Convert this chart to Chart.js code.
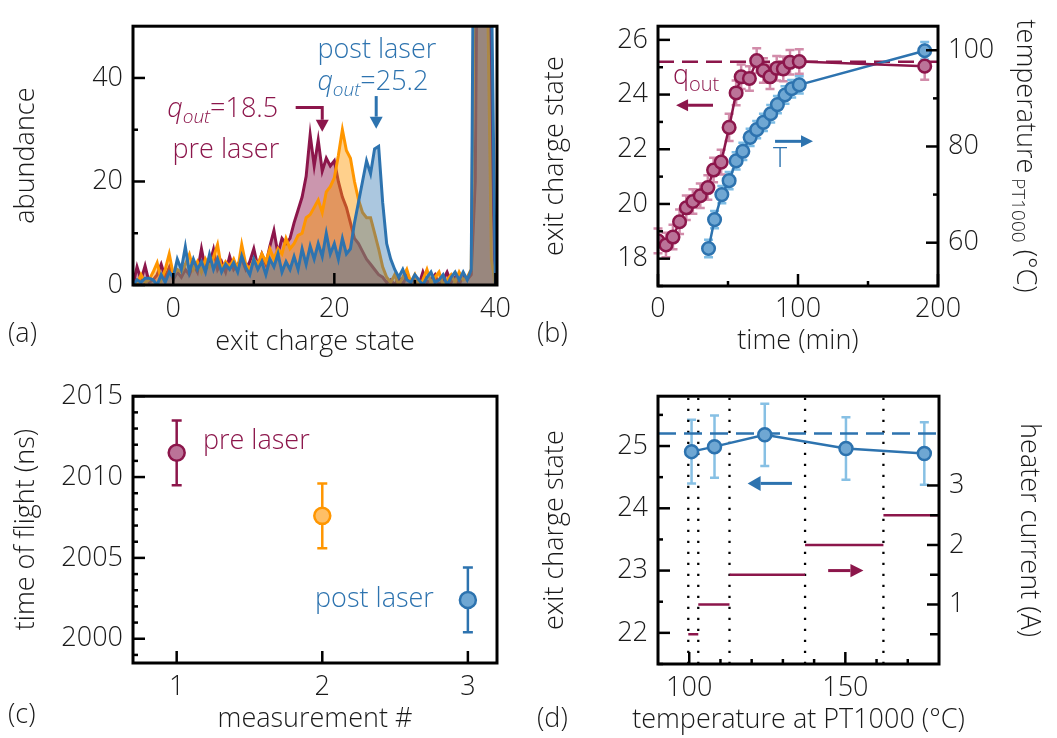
<!DOCTYPE html>
<html>
<head>
<meta charset="utf-8">
<script src="https://cdn.jsdelivr.net/npm/chart.js@4.4.0/dist/chart.umd.min.js"></script>
<style>
    body { margin: 0; background: #fff; width: 1057px; height: 738px; overflow: hidden; position: relative; }
    .panel { position: absolute; }
</style>
</head>
<body>
<div class="panel" style="left:0;top:0;width:520px;height:370px"><canvas id="chartA"></canvas></div>
<div class="panel" style="left:520px;top:0;width:537px;height:370px"><canvas id="chartB"></canvas></div>
<div class="panel" style="left:0;top:370px;width:520px;height:368px"><canvas id="chartC"></canvas></div>
<div class="panel" style="left:520px;top:370px;width:537px;height:368px"><canvas id="chartD"></canvas></div>
<script>
// ---- (a) exit charge state spectra ----
const chargeState = [
    -5, -4.5, -4, -3.5, -3, -2.5, -2, -1.5, -1, -0.5,
    0, 0.5, 1, 1.5, 2, 2.5, 3, 3.5, 4, 4.5,
    5, 5.5, 6, 6.5, 7, 7.5, 8, 8.5, 9, 9.5,
    10, 10.5, 11, 11.5, 12, 12.5, 13, 13.5, 14, 14.5,
    15, 15.5, 16, 16.5, 17, 17.5, 18, 18.5, 19, 19.5,
    20, 20.5, 21, 21.5, 22, 22.5, 23, 23.5, 24, 24.5,
    25, 25.5, 26, 26.5, 27, 27.5, 28, 28.5, 29, 29.5,
    30, 30.5, 31, 31.5, 32, 32.5, 33, 33.5, 34, 34.5,
    35, 35.5, 36, 36.5, 37, 37.5, 38, 38.5, 39, 39.5,
    40
];
const abundancePre = [
    0, 3.5, 1, 3.7, 0.5, 1, 2, 4, 1.5, 3.4,
    1, 2.5, 1.5, 3, 2, 4, 2.5, 7, 3, 4,
    6.9, 3, 4.5, 2.5, 5.5, 3, 4, 5, 3, 4.5,
    7, 3.5, 6, 4, 7.5, 10.5, 6, 9, 8, 9,
    12, 14.5, 17, 21, 29, 23, 28, 22, 24.5, 23,
    24, 20, 17, 15, 12, 9, 8, 6.5, 5, 4,
    3, 2, 1.5, 0.5, 1, 0, 1.5, 0, 2, 0.5,
    1, 0, 2.5, 0.5, 1, 2, 0, 1, 2.5, 0.5,
    1.5, 0, 2, 1, 2, 20, 120, 150, 90, 29,
    0
];
const abundanceMid = [
    0, 0, 2, 0.5, 1, 2.5, 4.3, 1, 3, 6,
    2, 3, 2.5, 4, 5.9, 3, 4.5, 2.5, 5, 3.5,
    5.4, 7.8, 3, 4.5, 3.5, 5, 3, 7.8, 4, 3,
    5, 4, 6, 4.5, 7, 5, 7, 6, 9, 7,
    8, 9.6, 10, 13, 13.6, 15, 16.4, 14, 18, 19,
    20.7, 25, 30, 26, 24.5, 20, 16.5, 14, 13, 13,
    10, 7, 3.5, 1.5, 0.5, 2, 0, 1.5, 3, 0.5,
    2, 0, 1, 3, 0.5, 1.5, 2.5, 0, 1, 2,
    0.5, 2.5, 1, 1.5, 3, 80, 150, 120, 60, 5,
    0
];
const abundancePost = [
    0, 1, 0.5, 1.3, 1.3, 1, 0, 2, 0.5, 2.5,
    1.5, 5, 3, 7.4, 2.5, 5, 3, 4.5, 2.5, 5.9,
    3, 5, 2.5, 4, 3, 4.3, 2.5, 5.6, 3.4, 2,
    5, 3, 4.5, 2, 5, 3.5, 6, 2.5, 4.5, 3,
    5.5, 3, 7, 4, 7.5, 5, 8, 5.5, 10, 6,
    8, 5, 9, 6, 7, 12, 16, 20, 24, 21.5,
    26.3, 26.8, 16, 8, 5, 3, 1.5, 3, 1, 0.5,
    2, 1, 0, 1.5, 2.5, 0.5, 1, 2, 0, 1.5,
    2.5, 1, 2.5, 1, 3, 120, 160, 150, 120, 60,
    0
];
const qPreLaser = 18.5;
const qPostLaser = 25.2;
const aXTicks = [0, 20, 40], aXMinor = [10, 30];
const aYTicks = [0, 20, 40], aYMinor = [10, 30];

// ---- (b) exit charge state and temperature vs time ----
const timeQ = [0, 5.7, 10.7, 15.4, 20.2, 24.9, 30.2, 35.6, 39.7, 45.1, 50.8, 55.8, 59.4, 65.3, 70.5, 75.3, 80, 84.8, 89.5, 94.3, 100.9, 190.5];
const qOut = [18.65, 18.5, 18.79, 19.35, 19.86, 20.09, 20.3, 20.6, 21.24, 21.53, 22.8, 24.06, 24.65, 24.59, 25.24, 24.88, 24.65, 24.96, 24.94, 25.18, 25.21, 25.04];
const qOutErr = [0.45, 0.45, 0.45, 0.45, 0.45, 0.45, 0.45, 0.45, 0.45, 0.45, 0.5, 0.45, 0.45, 0.45, 0.45, 0.45, 0.45, 0.45, 0.45, 0.45, 0.45, 0.5];
const timeT = [36.1, 40.4, 45.6, 50.8, 55.8, 60.6, 65.8, 70.5, 75.3, 80.5, 85.3, 90.7, 95.5, 100.9, 190.5];
const tempT = [58.8, 64.8, 70, 72.9, 77, 79, 81.9, 83.5, 85, 86.8, 88.7, 90.7, 92, 92.8, 99.9];
const tempErr = [1.8, 1.8, 1.8, 1.8, 1.8, 1.8, 1.8, 1.8, 1.8, 1.8, 1.8, 1.8, 1.8, 1.8, 1.8];
const bXTicks = [0, 100, 200], bXMinor = [50, 150];
const bYTicks = [18, 20, 22, 24, 26], bYMinor = [17, 19, 21, 23, 25];
const bY2Ticks = [60, 80, 100], bY2Minor = [70, 90];

// ---- (c) time of flight per measurement ----
const measurement = [1, 2, 3];
const timeOfFlight = [2011.5, 2007.6, 2002.4];
const timeOfFlightErr = [2, 2, 2];
const cXTicks = [1, 2, 3];
const cYTicks = [2000, 2005, 2010, 2015];
const cYMinor = [1999, 2001, 2002, 2003, 2004, 2006, 2007, 2008, 2009, 2011, 2012, 2013, 2014];

// ---- (d) exit charge state vs temperature, heater current ----
const tempD = [100.75, 108.1, 124.2, 150.2, 175.3];
const qD = [24.91, 24.99, 25.18, 24.96, 24.88];
const qDErr = [0.51, 0.5, 0.5, 0.5, 0.5];
const heaterStart = [99.7, 102.9, 112.9, 137.1, 162.2];
const heaterEnd = [102.9, 112.9, 137.1, 162.2, 180];
const heaterCurrent = [0.5, 1, 1.5, 2, 2.5];
const dXTicks = [100, 150], dXMinor = [110, 120, 130, 140, 160, 170];
const dYTicks = [22, 23, 24, 25], dYMinor = [21.5, 22.5, 23.5, 24.5, 25.5];
const dY2Ticks = [1, 2, 3], dY2Minor = [0.5, 1.5, 2.5];

// colours
const crimson = 'rgb(140, 22, 75)';
const orange = 'rgb(255, 150, 0)';
const blue = 'rgb(45, 115, 175)';
const FONT = '"Open Sans", "DejaVu Sans", sans-serif';
const FS = 27;
const SUB = 19;

Chart.defaults.font.family = FONT;
Chart.defaults.font.size = FS;
Chart.defaults.font.weight = '300';
Chart.defaults.color = '#1a1a1a';

function fontStr(size, italic) {
    return (italic ? 'italic ' : '') + '300 ' + size + 'px ' + FONT;
}

// linear axis with fixed box size and hand-picked tick values
function axis(o) {
    return {
        type: 'linear',
        position: o.position,
        min: o.min,
        max: o.max,
        grid: { display: false, drawTicks: false },
        border: { display: false },
        ticks: {
            padding: o.pad,
            autoSkip: false,
            maxRotation: 0,
            callback: v => String(v)
        },
        afterBuildTicks: s => { s.ticks = o.ticks.map(v => ({ value: v })); },
        afterFit: s => {
            if (o.width !== undefined) s.width = o.width;
            else s.height = o.height;
        },
        title: o.title
            ? { display: true, text: o.title, padding: o.titlePad, font: { size: FS } }
            : { display: false }
    };
}

function baseOptions(padding, scales) {
    return {
        responsive: true,
        maintainAspectRatio: false,
        animation: false,
        devicePixelRatio: 1,
        events: [],
        layout: { padding: padding },
        plugins: { legend: { display: false }, tooltip: { enabled: false } },
        scales: scales
    };
}

function textWidth(ctx, segs) {
    let total = 0;
    ctx.save();
    segs.forEach(s => { ctx.font = fontStr(s.size || FS, s.italic); total += ctx.measureText(s.t).width; });
    ctx.restore();
    return total;
}

function drawRich(ctx, x, y, segs, color) {
    ctx.save();
    ctx.fillStyle = color;
    ctx.textBaseline = 'alphabetic';
    ctx.textAlign = 'left';
    let cx = x;
    segs.forEach(s => {
        ctx.font = fontStr(s.size || FS, s.italic);
        ctx.fillText(s.t, cx, y + (s.dy || 0));
        cx += ctx.measureText(s.t).width;
    });
    ctx.restore();
}

function drawArrow(ctx, pts, color, width, headLen, headHalf) {
    const n = pts.length;
    const [tx, ty] = pts[n - 1];
    const [px, py] = pts[n - 2];
    const len = Math.hypot(tx - px, ty - py);
    const ux = (tx - px) / len, uy = (ty - py) / len;
    const bx = tx - ux * headLen, by = ty - uy * headLen;
    ctx.save();
    ctx.strokeStyle = color;
    ctx.fillStyle = color;
    ctx.lineWidth = width;
    ctx.beginPath();
    ctx.moveTo(pts[0][0], pts[0][1]);
    for (let i = 1; i < n - 1; i++) ctx.lineTo(pts[i][0], pts[i][1]);
    ctx.lineTo(bx, by);
    ctx.stroke();
    ctx.beginPath();
    ctx.moveTo(tx, ty);
    ctx.lineTo(bx - uy * headHalf, by + ux * headHalf);
    ctx.lineTo(bx + uy * headHalf, by - ux * headHalf);
    ctx.closePath();
    ctx.fill();
    ctx.restore();
}

// error bars, inner ticks, frame, arrows and annotations of one panel
function decor(spec) {
    return {
        id: 'decor',
        beforeDatasetsDraw(chart) {
            const ctx = chart.ctx;
            (spec.errorBars || []).forEach(eb => {
                const xs = chart.scales.x, ys = chart.scales[eb.yAxis || 'y'];
                ctx.save();
                ctx.lineWidth = eb.width;
                eb.x.forEach((xv, i) => {
                    const px = xs.getPixelForValue(xv);
                    const top = ys.getPixelForValue(eb.y[i] + eb.err[i]);
                    const bot = ys.getPixelForValue(eb.y[i] - eb.err[i]);
                    ctx.strokeStyle = Array.isArray(eb.color) ? eb.color[i] : eb.color;
                    ctx.beginPath();
                    ctx.moveTo(px, top); ctx.lineTo(px, bot);
                    ctx.moveTo(px - eb.cap, top); ctx.lineTo(px + eb.cap, top);
                    ctx.moveTo(px - eb.cap, bot); ctx.lineTo(px + eb.cap, bot);
                    ctx.stroke();
                });
                ctx.restore();
            });
        },
        afterDatasetsDraw(chart) {
            const ctx = chart.ctx, a = chart.chartArea;
            // ticks pointing into the plot
            ctx.save();
            ctx.strokeStyle = '#000';
            ctx.lineWidth = 2.5;
            (spec.ticks || []).forEach(t => {
                const sc = chart.scales[t.axis];
                const mark = (v, len) => {
                    const p = sc.getPixelForValue(v);
                    ctx.beginPath();
                    if (t.side === 'left') { ctx.moveTo(a.left, p); ctx.lineTo(a.left + len, p); }
                    else if (t.side === 'right') { ctx.moveTo(a.right, p); ctx.lineTo(a.right - len, p); }
                    else { ctx.moveTo(p, a.bottom); ctx.lineTo(p, a.bottom - len); }
                    ctx.stroke();
                };
                t.major.forEach(v => mark(v, 12));
                (t.minor || []).forEach(v => mark(v, t.minorLen || 5));
            });
            ctx.lineWidth = 3;
            ctx.strokeRect(a.left, a.top, a.right - a.left, a.bottom - a.top);
            ctx.restore();

            const toPx = (p, yAxis) => [chart.scales.x.getPixelForValue(p[0]), chart.scales[yAxis || 'y'].getPixelForValue(p[1])];
            (spec.arrows || []).forEach(ar => {
                drawArrow(ctx, ar.pts.map(p => toPx(p, ar.yAxis)), ar.color, 3, ar.headLen || 12, ar.headHalf || 6.5);
            });
            (spec.labels || []).forEach(lb => {
                const [x, y] = toPx(lb.at, lb.yAxis);
                drawRich(ctx, x, y, lb.segs, lb.color);
            });
        },
        afterDraw(chart) {
            const ctx = chart.ctx, a = chart.chartArea;
            drawRich(ctx, spec.letter.x, spec.letter.y, [{ t: spec.letter.t }], '#1a1a1a');
            if (spec.rightTitle) {
                // rotated title with a subscript, reading top to bottom
                const rt = spec.rightTitle;
                const total = textWidth(ctx, rt.segs);
                ctx.save();
                ctx.translate(rt.x, (a.top + a.bottom) / 2);
                ctx.rotate(Math.PI / 2);
                drawRich(ctx, -total / 2, 0, rt.segs, '#1a1a1a');
                ctx.restore();
            }
            if (spec.bottomTitle) {
                // wider than the axis, so drawn here instead of by the scale
                const bt = spec.bottomTitle;
                const total = textWidth(ctx, bt.segs);
                drawRich(ctx, (a.left + a.right) / 2 - total / 2, bt.y, bt.segs, '#1a1a1a');
            }
        }
    };
}

function histogram(values, color, fillColor, order) {
    return {
        data: chargeState.map((q, i) => ({ x: q, y: values[i] })),
        borderColor: color,
        backgroundColor: fillColor,
        fill: 'origin',
        borderWidth: 3,
        pointRadius: 0,
        tension: 0,
        order: order
    };
}

function pointsOf(xs, ys) {
    return xs.map((x, i) => ({ x: x, y: ys[i] }));
}

function initializeCharts() {
    // (a) spectra
    new Chart(document.getElementById('chartA'), {
        type: 'line',
        data: {
            datasets: [
                histogram(abundancePost, blue, 'rgba(45, 115, 175, 0.4)', 1),
                histogram(abundanceMid, orange, 'rgba(255, 150, 0, 0.45)', 2),
                histogram(abundancePre, crimson, 'rgba(140, 22, 75, 0.45)', 3)
            ]
        },
        options: baseOptions({ top: 15, right: 23, left: 0, bottom: 0 }, {
            x: axis({ position: 'bottom', min: -5, max: 40.2, ticks: aXTicks, pad: 8, height: 85,
                title: 'exit charge state', titlePad: { top: 0, bottom: 11 } }),
            y: axis({ position: 'left', min: 0, max: 50, ticks: aYTicks, pad: 10, width: 133,
                title: 'abundance', titlePad: { top: 9.9, bottom: 0 } })
        }),
        plugins: [decor({
            ticks: [
                { axis: 'x', side: 'bottom', major: aXTicks, minor: aXMinor },
                { axis: 'y', side: 'left', major: aYTicks, minor: aYMinor }
            ],
            arrows: [
                { pts: [[qPostLaser, 36.5], [qPostLaser, 30.2]], color: blue },
                { pts: [[15.2, 34.3], [qPreLaser, 34.3], [qPreLaser, 29.6]], color: crimson }
            ],
            labels: [
                { at: [17.9, 43.9], color: blue, segs: [{ t: 'post laser' }] },
                { at: [17.9, 37.6], color: blue, segs: [{ t: 'q', italic: true }, { t: 'out', italic: true, size: SUB, dy: 6 }, { t: '=' + qPostLaser }] },
                { at: [-0.75, 32.4], color: crimson, segs: [{ t: 'q', italic: true }, { t: 'out', italic: true, size: SUB, dy: 6 }, { t: '=' + qPreLaser }] },
                { at: [-0.1, 24.6], color: crimson, segs: [{ t: 'pre laser' }] }
            ],
            letter: { t: '(a)', x: 8, y: 342 }
        })]
    });

    // (b) time evolution
    new Chart(document.getElementById('chartB'), {
        type: 'line',
        data: {
            datasets: [
                {
                    data: pointsOf(timeQ, qOut), yAxisID: 'y', order: 1,
                    borderColor: crimson, borderWidth: 2.5, tension: 0,
                    pointRadius: 6.3, pointBorderWidth: 2.5,
                    pointBackgroundColor: '#bb7398', pointBorderColor: crimson
                },
                {
                    data: pointsOf(timeT, tempT), yAxisID: 'y2', order: 2,
                    borderColor: blue, borderWidth: 2.5, tension: 0,
                    pointRadius: 6.3, pointBorderWidth: 2.5,
                    pointBackgroundColor: '#6fa7d3', pointBorderColor: blue
                },
                {
                    data: [{ x: 0, y: qPostLaser }, { x: 200, y: qPostLaser }], yAxisID: 'y', order: 3,
                    borderColor: crimson, borderWidth: 2.5, borderDash: [16, 8], pointRadius: 0
                }
            ]
        },
        options: baseOptions({ top: 15, right: 0, left: 0, bottom: 0 }, {
            x: axis({ position: 'bottom', min: 0, max: 200, ticks: bXTicks, pad: 7, height: 84,
                title: 'time (min)', titlePad: { top: 0, bottom: 12.7 } }),
            y: axis({ position: 'left', min: 17, max: 26.5, ticks: bYTicks, pad: 10, width: 138,
                title: 'exit charge state', titlePad: { top: 19.6, bottom: 0 } }),
            y2: axis({ position: 'right', min: 51, max: 105, ticks: bY2Ticks, pad: 10, width: 119 })
        }),
        plugins: [decor({
            errorBars: [
                { x: timeQ, y: qOut, err: qOutErr, color: 'rgb(210, 140, 170)', width: 2.5, cap: 4.5 },
                { x: timeT, y: tempT, err: tempErr, yAxis: 'y2', color: 'rgb(125, 188, 228)', width: 2.5, cap: 4.5 }
            ],
            ticks: [
                { axis: 'x', side: 'bottom', major: bXTicks, minor: bXMinor },
                { axis: 'y', side: 'left', major: bYTicks, minor: bYMinor },
                { axis: 'y2', side: 'right', major: bY2Ticks, minor: bY2Minor }
            ],
            arrows: [
                { pts: [[39.3, 23.61], [12.9, 23.61]], color: crimson, headHalf: 6 },
                { pts: [[83.6, 22.29], [110.7, 22.29]], color: blue, headHalf: 6 }
            ],
            labels: [
                { at: [10.7, 24.38], color: crimson, segs: [{ t: 'q' }, { t: 'out', size: SUB + 1, dy: 7 }] },
                { at: [82.1, 21.34], color: blue, segs: [{ t: 'T' }] }
            ],
            rightTitle: { x: 497, segs: [{ t: 'temperature' }, { t: ' PT1000', size: SUB, dy: 5 }, { t: ' (°C)' }] },
            letter: { t: '(b)', x: 17, y: 342 }
        })]
    });

    // (c) time of flight
    new Chart(document.getElementById('chartC'), {
        type: 'line',
        data: {
            datasets: [{
                data: pointsOf(measurement, timeOfFlight), showLine: false,
                pointRadius: 8, pointBorderWidth: 2.5,
                pointBackgroundColor: ['#bb7398', '#ffbf66', '#6fa7d3'],
                pointBorderColor: [crimson, orange, blue]
            }]
        },
        options: baseOptions({ top: 23, right: 23, left: 0, bottom: 0 }, {
            x: axis({ position: 'bottom', min: 0.7, max: 3.2, ticks: cXTicks, pad: 8, height: 75,
                title: 'measurement #', titlePad: { top: 0, bottom: 2.4 } }),
            y: axis({ position: 'left', min: 1998.5, max: 2015, ticks: cYTicks, pad: 10, width: 133,
                title: 'time of flight (ns)', titlePad: { top: 9.9, bottom: 0 } })
        }),
        plugins: [decor({
            errorBars: [
                { x: measurement, y: timeOfFlight, err: timeOfFlightErr, color: [crimson, orange, blue], width: 2.5, cap: 5 }
            ],
            ticks: [
                { axis: 'x', side: 'bottom', major: cXTicks },
                { axis: 'y', side: 'left', major: cYTicks, minor: cYMinor }
            ],
            labels: [
                { at: [1.18, 2011.76], color: crimson, segs: [{ t: 'pre laser' }] },
                { at: [1.95, 2001.97], color: blue, segs: [{ t: 'post laser' }] }
            ],
            letter: { t: '(c)', x: 8, y: 353 }
        })]
    });

    // (d) temperature scan with heater current steps
    const heaterData = [];
    heaterStart.forEach((s, i) => {
        heaterData.push({ x: s, y: heaterCurrent[i] }, { x: heaterEnd[i], y: heaterCurrent[i] }, { x: heaterEnd[i], y: null });
    });
    const dottedSets = heaterStart.map(e => ({
        data: [{ x: e, y: 21.5 }, { x: e, y: 25.8 }], yAxisID: 'y', order: 5,
        borderColor: '#000', borderWidth: 2.3, borderDash: [2.3, 8.7], pointRadius: 0
    }));
    new Chart(document.getElementById('chartD'), {
        type: 'line',
        data: {
            datasets: [
                {
                    data: pointsOf(tempD, qD), yAxisID: 'y', order: 1,
                    borderColor: blue, borderWidth: 2.5, tension: 0,
                    pointRadius: 6.5, pointBorderWidth: 2.5,
                    pointBackgroundColor: '#6fa7d3', pointBorderColor: blue
                },
                {
                    data: [{ x: 90, y: qPostLaser }, { x: 180, y: qPostLaser }], yAxisID: 'y', order: 2,
                    borderColor: blue, borderWidth: 2.5, borderDash: [18, 8], pointRadius: 0
                },
                {
                    data: heaterData, yAxisID: 'y2', order: 3,
                    borderColor: crimson, borderWidth: 2.5, pointRadius: 0, spanGaps: false
                }
            ].concat(dottedSets)
        },
        options: baseOptions({ top: 23, right: 0, left: 0, bottom: 0 }, {
            x: axis({ position: 'bottom', min: 90, max: 180, ticks: dXTicks, pad: 8, height: 74 }),
            y: axis({ position: 'left', min: 21.5, max: 25.8, ticks: dYTicks, pad: 10, width: 138,
                title: 'exit charge state', titlePad: { top: 19.6, bottom: 0 } }),
            y2: axis({ position: 'right', min: 0, max: 4.5, ticks: dY2Ticks, pad: 10, width: 118,
                title: 'heater current (A)', titlePad: { top: 11.9, bottom: 0 } })
        }),
        plugins: [decor({
            errorBars: [
                { x: tempD, y: qD, err: qDErr, color: 'rgb(135, 192, 228)', width: 2.5, cap: 4.5 }
            ],
            ticks: [
                { axis: 'x', side: 'bottom', major: dXTicks, minor: dXMinor },
                { axis: 'y', side: 'left', major: dYTicks, minor: dYMinor },
                { axis: 'y2', side: 'right', major: dY2Ticks, minor: dY2Minor, minorLen: 9 }
            ],
            arrows: [
                { pts: [[132.9, 24.4], [118.7, 24.4]], color: blue, headLen: 13, headHalf: 7.5 },
                { pts: [[144.5, 23.0], [155.8, 23.0]], color: crimson, headLen: 13, headHalf: 6.7 }
            ],
            bottomTitle: { y: 358, segs: [{ t: 'temperature at PT1000 (°C)' }] },
            letter: { t: '(d)', x: 17, y: 357 }
        })]
    });
}

document.addEventListener('DOMContentLoaded', function() {
    initializeCharts();
});
</script>
</body>
</html>
